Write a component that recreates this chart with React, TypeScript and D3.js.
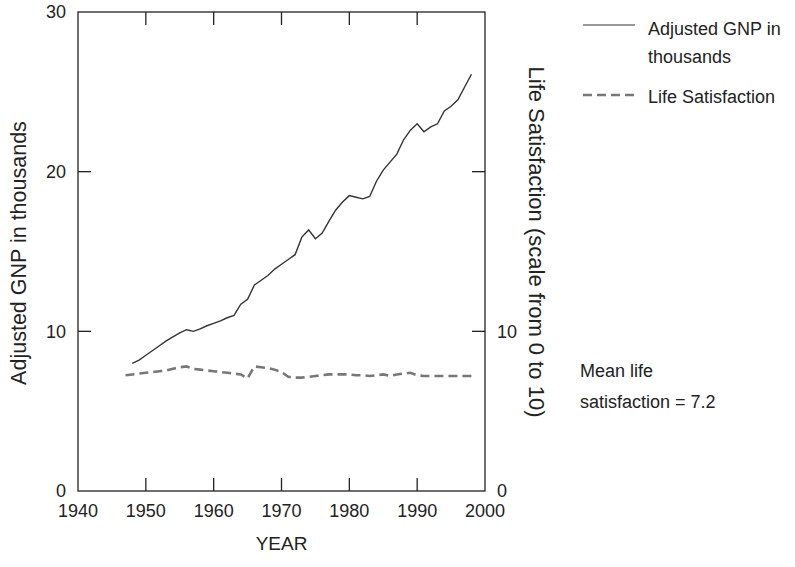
import * as d3 from "d3";

const gnpYears = [
  1948, 1949, 1950, 1951, 1952, 1953, 1954, 1955, 1956, 1957, 1958, 1959, 1960,
  1961, 1962, 1963, 1964, 1965, 1966, 1967, 1968, 1969, 1970, 1971, 1972, 1973,
  1974, 1975, 1976, 1977, 1978, 1979, 1980, 1981, 1982, 1983, 1984, 1985, 1986,
  1987, 1988, 1989, 1990, 1991, 1992, 1993, 1994, 1995, 1996, 1997, 1998,
];
const gnpValues = [
  8.0, 8.2, 8.5, 8.8, 9.1, 9.4, 9.65, 9.9, 10.1, 10.0, 10.15, 10.35, 10.5,
  10.65, 10.85, 11.0, 11.7, 12.0, 12.9, 13.2, 13.5, 13.9, 14.2, 14.5, 14.8,
  15.9, 16.35, 15.8, 16.15, 16.9, 17.6, 18.1, 18.5, 18.4, 18.3, 18.45, 19.4,
  20.1, 20.6, 21.1, 22.0, 22.6, 23.0, 22.5, 22.8, 23.0, 23.8, 24.1, 24.5, 25.3,
  26.1,
];

const lifeYears = [
  1947, 1948, 1949, 1950, 1951, 1952, 1953, 1954, 1955, 1956, 1957, 1958, 1959,
  1960, 1961, 1962, 1963, 1964, 1965, 1966, 1967, 1968, 1969, 1970, 1971, 1972,
  1973, 1974, 1975, 1976, 1977, 1978, 1979, 1980, 1981, 1982, 1983, 1984, 1985,
  1986, 1987, 1988, 1989, 1990, 1991, 1992, 1993, 1994, 1995, 1996, 1997, 1998,
];
const lifeValues = [
  7.25, 7.3, 7.35, 7.4, 7.45, 7.5, 7.55, 7.65, 7.75, 7.8, 7.65, 7.6, 7.55, 7.5,
  7.45, 7.4, 7.35, 7.3, 7.05, 7.8, 7.75, 7.7, 7.6, 7.45, 7.15, 7.1, 7.1, 7.15,
  7.2, 7.25, 7.3, 7.3, 7.3, 7.3, 7.25, 7.25, 7.2, 7.25, 7.3, 7.2, 7.3, 7.35,
  7.4, 7.25, 7.2, 7.2, 7.2, 7.2, 7.2, 7.2, 7.2, 7.2,
];

const yearTicks = [1940, 1950, 1960, 1970, 1980, 1990, 2000];
const gnpTicks = [0, 10, 20, 30];
const lifeTicks = [0, 10];

const font = "'Liberation Sans', Arial, Helvetica, sans-serif";
const ink = "#222";

const App = () => {
  const width = 795;
  const height = 567;

  const x = d3.scaleLinear().domain([1940, 2000]).range([78, 485]);
  const yGnp = d3.scaleLinear().domain([0, 30]).range([491, 12]);
  // life satisfaction 0..10 shares the lower third of the frame
  const yLife = d3.scaleLinear().domain([0, 10]).range([491, 331.3]);

  const gnpLine = d3
    .line<number>()
    .x((_, i) => x(gnpYears[i]))
    .y((d) => yGnp(d));
  const lifeLine = d3
    .line<number>()
    .x((_, i) => x(lifeYears[i]))
    .y((d) => yLife(d));

  const [x0, x1] = x.range();
  const [yb, yt] = yGnp.range();
  const tickLen = 13;

  return (
    <svg
      width={width}
      height={height}
      style={{ position: "absolute", left: 0, top: 0, background: "#fff" }}
      fontFamily={font}
    >
      {/* Frame */}
      <rect
        x={x0}
        y={yt}
        width={x1 - x0}
        height={yb - yt}
        fill="none"
        stroke={ink}
        strokeWidth={1.3}
      />

      {/* X ticks, top and bottom, pointing inward */}
      {yearTicks.map((t) => (
        <g key={t}>
          {t > 1940 && t < 2000 && (
            <>
              <line x1={x(t)} x2={x(t)} y1={yb} y2={yb - tickLen} stroke={ink} strokeWidth={1.3} />
              <line x1={x(t)} x2={x(t)} y1={yt} y2={yt + tickLen} stroke={ink} strokeWidth={1.3} />
            </>
          )}
          <text x={x(t)} y={517} textAnchor="middle" fontSize={18} fill={ink}>
            {t}
          </text>
        </g>
      ))}
      <text x={(x0 + x1) / 2} y={550} textAnchor="middle" fontSize={19} fill={ink}>
        YEAR
      </text>

      {/* Left axis */}
      {gnpTicks.map((t) => (
        <g key={t}>
          {t > 0 && t < 30 && (
            <>
              <line x1={x0} x2={x0 + tickLen} y1={yGnp(t)} y2={yGnp(t)} stroke={ink} strokeWidth={1.3} />
              <line x1={x1} x2={x1 - tickLen} y1={yGnp(t)} y2={yGnp(t)} stroke={ink} strokeWidth={1.3} />
            </>
          )}
          <text
            x={66}
            y={yGnp(t)}
            dy="0.35em"
            textAnchor="end"
            fontSize={18}
            fill={ink}
          >
            {t}
          </text>
        </g>
      ))}
      <text
        transform={`translate(26, ${253}) rotate(-90)`}
        textAnchor="middle"
        fontSize={21.5}
        fill={ink}
      >
        Adjusted GNP in thousands
      </text>

      {/* Right axis */}
      {lifeTicks.map((t) => (
        <text
          key={t}
          x={497}
          y={yLife(t)}
          dy="0.35em"
          textAnchor="start"
          fontSize={18}
          fill={ink}
        >
          {t}
        </text>
      ))}
      <text
        transform={`translate(529, ${242}) rotate(90)`}
        textAnchor="middle"
        fontSize={22}
        fill={ink}
      >
        Life Satisfaction (scale from 0 to 10)
      </text>

      {/* Series */}
      <path d={gnpLine(gnpValues) ?? ""} fill="none" stroke="#333" strokeWidth={1.4} />
      <path
        d={lifeLine(lifeValues) ?? ""}
        fill="none"
        stroke="#777"
        strokeWidth={2.6}
        strokeDasharray="9 5"
      />

      {/* Legend */}
      <line x1={583} x2={635} y1={25} y2={25} stroke="#333" strokeWidth={1.2} />
      <text x={648} y={35} fontSize={18} fill={ink}>
        Adjusted GNP in
      </text>
      <text x={648} y={63} fontSize={18} fill={ink}>
        thousands
      </text>
      <line
        x1={583}
        x2={635}
        y1={95}
        y2={95}
        stroke="#777"
        strokeWidth={2.4}
        strokeDasharray="9 5"
      />
      <text x={648} y={103} fontSize={18} fill={ink}>
        Life Satisfaction
      </text>

      {/* Annotation */}
      <text x={580} y={377} fontSize={18} fill={ink}>
        Mean life
      </text>
      <text x={580} y={408} fontSize={18} fill={ink}>
        satisfaction = 7.2
      </text>
    </svg>
  );
};

export default App;
